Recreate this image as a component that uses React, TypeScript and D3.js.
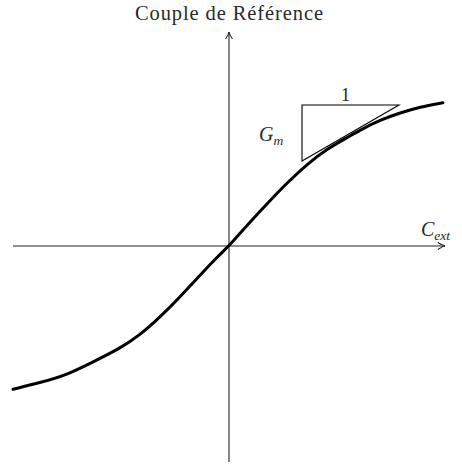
import React from "react";
import * as d3 from "d3";

// curve (x = external torque, y = reference torque)
const curveX = [-3, -2.63, -2.25, -1.89, -1.51, -1.24, -0.96, -0.68, -0.4, -0.13, 0, 0.26, 0.54, 0.82, 1.1, 1.38, 1.65, 1.82, 2.1, 2.38, 2.65, 2.97];
const curveY = [-1.99, -1.9, -1.79, -1.61, -1.42, -1.24, -0.99, -0.71, -0.4, -0.12, 0, 0.3, 0.6, 0.89, 1.15, 1.36, 1.51, 1.61, 1.75, 1.85, 1.93, 1.99];

// slope triangle corners
const triX = [1.014, 2.361, 1.014];
const triY = [1.958, 1.958, 1.181];

const title = "Couple de Référence";

export default function App() {
  const width = 462;
  const height = 464;

  const x = d3.scaleLinear().domain([-3, 3]).range([13, 445]);
  const y = d3.scaleLinear().domain([-3, 3]).range([462, 30]);

  const pts: [number, number][] = curveX.map((v, i) => [x(v), y(curveY[i])]);
  const line = d3.line().curve(d3.curveBasis);

  const tri = d3.line()(triX.map((v, i) => [x(v), y(triY[i])] as [number, number])) + "Z";

  const x0 = x(0);
  const y0 = y(0);
  const font = "'Liberation Serif', 'Times New Roman', serif";
  const axisColor = "#222";
  const textColor = "#2a2a2a";

  // little latex-ish arrow heads
  const arrowRight = (ax: number, ay: number) =>
    `M${ax - 7},${ay - 3.5} Q${ax - 3},${ay - 0.5} ${ax},${ay} Q${ax - 3},${ay + 0.5} ${ax - 7},${ay + 3.5}`;
  const arrowUp = (ax: number, ay: number) =>
    `M${ax - 3.5},${ay + 7} Q${ax - 0.5},${ay + 3} ${ax},${ay} Q${ax + 0.5},${ay + 3} ${ax + 3.5},${ay + 7}`;

  return (
    <svg width={width} height={height} style={{ position: "absolute", left: 0, top: 0, background: "#fff" }}>
      {/* axes */}
      <line x1={x(-3)} y1={y0} x2={x(3)} y2={y0} stroke={axisColor} strokeWidth={1.1} />
      <path d={arrowRight(x(3), y0)} fill="none" stroke={axisColor} strokeWidth={1.1} />
      <line x1={x0} y1={y(-3)} x2={x0} y2={32} stroke={axisColor} strokeWidth={1.1} />
      <path d={arrowUp(x0, 32)} fill="none" stroke={axisColor} strokeWidth={1.1} />

      {/* labels */}
      <text x={x0} y={20} textAnchor="middle" fontFamily={font} fontSize={20.5} fill={textColor}
        textLength={188} lengthAdjust="spacing">
        {title}
      </text>
      <text x={421} y={236} fontFamily={font} fontSize={20} fill={textColor} fontStyle="italic">
        C<tspan fontSize={13.5} dy={4}>ext</tspan>
      </text>

      {/* slope triangle */}
      <path d={tri} fill="none" stroke="#000" strokeWidth={1.1} />
      <text x={(x(triX[0]) + x(triX[1])) / 2 - 5} y={y(triY[0]) - 4} textAnchor="middle" fontFamily={font} fontSize={19} fill={textColor}>
        1
      </text>
      <text x={259} y={141} fontFamily={font} fontSize={20} fill={textColor} fontStyle="italic">
        G<tspan fontSize={13.5} dy={4}>m</tspan>
      </text>

      {/* curve */}
      <path d={line(pts) || ""} fill="none" stroke="#000" strokeWidth={3} strokeLinecap="round" />
    </svg>
  );
}
